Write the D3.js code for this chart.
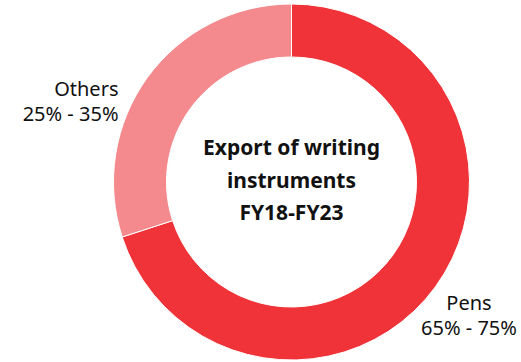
<!DOCTYPE html>
<html>
<head>
  <meta charset="utf-8">
  <script src="https://d3js.org/d3.v7.min.js"></script>
  <title>Export of writing instruments</title>
</head>
<style>
html,body {
  margin: 0;
  padding: 0;
  background: white;
  font-family: 'Noto Sans', sans-serif;
}
svg { display: block; }
.arc path { stroke: #fff; stroke-width: 1; }
</style>
<body>
<script>
// data (mid value of each range)
var categories = ["Pens", "Others"];
var shares = [70, 30];
var rangeLabels = ["65% - 75%", "25% - 35%"];
var colors = ["#EF3339", "#F48A8E"];
var titleLines = ["Export of writing", "instruments", "FY18-FY23"];

var width = 521, height = 362;
var cx = 291.5, cy = 182;
var outerR = 178, innerR = 125;

var data = categories.map(function(c, i) {
  return {name: c, value: shares[i], range: rangeLabels[i], color: colors[i]};
});

var svg = d3.select("body").append("svg")
  .attr("width", width)
  .attr("height", height);

var g = svg.append("g")
  .attr("transform", "translate(" + cx + "," + cy + ")");

var pie = d3.pie().sort(null).value(function(d) { return d.value; });
var arc = d3.arc().innerRadius(innerR).outerRadius(outerR);

g.selectAll(".arc")
  .data(pie(data))
  .enter().append("g")
  .attr("class", "arc")
  .append("path")
  .attr("d", arc)
  .style("fill", function(d) { return d.data.color; });

// labels outside the ring
var labelPos = {
  "Pens":   {x: 177.5, y: 128, anchor: "middle"},
  "Others": {x: -173,  y: -86, anchor: "end"}
};

data.forEach(function(d) {
  var p = labelPos[d.name];
  var t = g.append("text")
    .attr("text-anchor", p.anchor)
    .attr("font-size", "20px")
    .attr("fill", "#111");
  t.append("tspan").attr("x", p.x).attr("y", p.y).text(d.name);
  t.append("tspan").attr("x", p.x).attr("y", p.y + 25).text(d.range);
});

// centre title
g.append("text")
  .attr("text-anchor", "middle")
  .attr("font-size", "21px")
  .attr("font-weight", "bold")
  .attr("fill", "#111")
  .selectAll("tspan")
  .data(titleLines)
  .enter().append("tspan")
  .attr("x", 0)
  .attr("y", function(d, i) { return -27 + i * 32.5; })
  .text(function(d) { return d; });
</script>
</body>
</html>
